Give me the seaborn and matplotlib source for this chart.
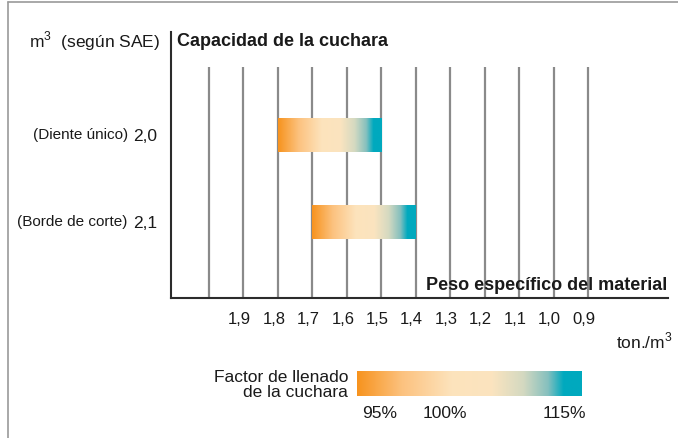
"""
Bucket capacity vs. material density chart (fill factor gradient bars)
"""

import numpy as np
import matplotlib
matplotlib.use("Agg")
import matplotlib.pyplot as plt
import matplotlib.transforms as mtransforms
from matplotlib.colors import LinearSegmentedColormap
from matplotlib.lines import Line2D
import seaborn as sns

W, H = 678, 438

# data
capacity_labels = ["2,0", "2,1"]
edge_types = ["(Diente único)", "(Borde de corte)"]
density_at_95 = [1.8, 1.7]    # ton/m3, left end of each bar
density_at_115 = [1.5, 1.4]   # ton/m3, right end of each bar
density_ticks = [2.0, 1.9, 1.8, 1.7, 1.6, 1.5, 1.4, 1.3, 1.2, 1.1, 1.0, 0.9]
density_labels = ["", "1,9", "1,8", "1,7", "1,6", "1,5", "1,4", "1,3",
                  "1,2", "1,1", "1,0", "0,9"]
fill_labels = ["95%", "100%", "115%"]
fill_pos = [0.10, 0.39, 0.92]

fill_cmap = LinearSegmentedColormap.from_list(
    "fill",
    [(0.0, "#F7931E"), (0.2, "#FCC27F"), (0.42, "#FDE3BC"), (0.6, "#FBE4BF"),
     (0.74, "#D4D9C1"), (0.85, "#86C0BE"), (0.92, "#00A9BE"), (1.0, "#00A9BE")],
)

sns.set_style("white")
plt.rcParams["font.family"] = ["Liberation Sans", "DejaVu Sans"]
plt.rcParams["mathtext.fontset"] = "custom"
plt.rcParams["mathtext.rm"] = "Liberation Sans"
TXT = "#1a1a1a"


def fig_text(fig, x, y, s, **kw):
    fig.text(x / W, 1 - y / H, s, color=TXT, **kw)


fig = plt.figure(figsize=(W / 100, H / 100), dpi=100)
ax = fig.add_axes([171 / W, 1 - 298 / H, 497 / W, 266 / H])

widths = [b - a for a, b in zip(density_at_95, density_at_115)]
sns.barplot(x=widths, y=capacity_labels, order=capacity_labels, orient="h",
            width=0.39, color="white", errorbar=None, ax=ax, zorder=2)

gradient = np.linspace(0, 1, 256)[None, :]
for patch, left in zip(ax.patches, density_at_95):
    patch.set_x(left)
    patch.set_edgecolor("none")
    y0, h = patch.get_y(), patch.get_height()
    x0, x1 = patch.get_x(), patch.get_x() + patch.get_width()
    im = ax.imshow(gradient, cmap=fill_cmap, aspect="auto",
                   extent=(x0, x1, y0 + h, y0), zorder=3)
    im.set_clip_path(patch)

ylim = (1.874, -1.184)
ax.vlines(density_ticks, -0.782, ylim[0], colors="#8a8a8a", lw=1.6, zorder=1)
ax.set_xlim(2.11, 0.668)
ax.set_ylim(*ylim)

for side in ["top", "right"]:
    ax.spines[side].set_visible(False)
for side in ["left", "bottom"]:
    ax.spines[side].set_color("#2b2b2b")
    ax.spines[side].set_linewidth(1.5)

ax.set_xticks(density_ticks, density_labels)
ax.set_yticks([0, 1], capacity_labels)
ax.tick_params(axis="x", length=0, pad=10, labelsize=12, labelcolor=TXT)
ax.tick_params(axis="y", length=0, pad=10, labelsize=12.5, labelcolor=TXT)
shift = mtransforms.ScaledTranslation(-4 / 100, 0, fig.dpi_scale_trans)
for lab in ax.get_xticklabels():
    lab.set_transform(lab.get_transform() + shift)
ax.set_xlabel("")
ax.set_ylabel("")

for i, name in enumerate(edge_types):
    ax.text(-0.087, i, name, transform=ax.get_yaxis_transform(),
            ha="right", va="center", fontsize=11, color=TXT)

fig_text(fig, 160, 41, "m$^3$  (según SAE)", ha="right", va="center",
         fontsize=12.5)
fig_text(fig, 177, 41, "Capacidad de la cuchara", ha="left", va="center",
         fontsize=13, fontweight="bold")
fig_text(fig, 667, 285, "Peso específico del material", ha="right",
         va="center", fontsize=13, fontweight="bold")
fig_text(fig, 673, 341, "ton./m$^3$", ha="right", va="center", fontsize=12.5)

# fill factor legend
cax = fig.add_axes([357 / W, 1 - 396 / H, 225 / W, 25 / H])
cax.imshow(gradient, cmap=fill_cmap, aspect="auto", extent=(0, 1, 0, 1))
cax.set_xlim(0, 1)
cax.set_ylim(0, 1)
cax.axis("off")
for pos, lab in zip(fill_pos, fill_labels):
    cax.text(pos, -0.68, lab, ha="center", va="center", fontsize=12.5,
             color=TXT, transform=cax.transAxes)
fig_text(fig, 348, 385, "Factor de llenado\nde la cuchara", ha="right",
         va="center", fontsize=12.5, linespacing=0.95)

# frame remnants of the original scan
fig.add_artist(Line2D([8 / W, 1], [1 - 1.5 / H] * 2, color="#9a9a9a", lw=1.2))
fig.add_artist(Line2D([8 / W] * 2, [0, 1 - 1.5 / H], color="#9a9a9a", lw=1.2))

fig.savefig("out.png", dpi=100)
